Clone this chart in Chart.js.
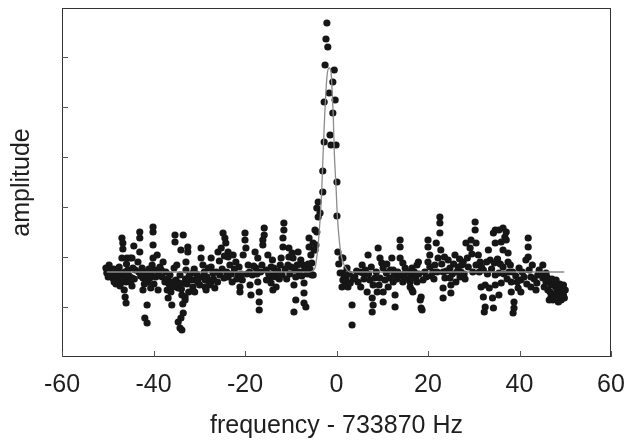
<!DOCTYPE html>
<html>
<head>
<meta charset="utf-8">
<script src="https://cdn.jsdelivr.net/npm/chart.js@4.4.1/dist/chart.umd.min.js"></script>
<style>
  html, body { margin: 0; padding: 0; background: #fff; }
  #wrap { width: 626px; height: 443px; }
</style>
</head>
<body>
<div id="wrap"><canvas id="spectrum" width="626" height="443"></canvas></div>
<script>
// tick positions (no labels on the y axis)
const xTicks = [-60, -40, -20, 0, 20, 40, 60];
const yTicks = [1, 2, 3, 4, 5, 6];

// measured points [frequency offset (Hz), amplitude (arb.)]
const leftWing = [
  [-50.4,1.78],[-50.2,1.68],[-49.7,1.84],[-49.5,1.62],[-49.1,1.74],[-48.9,1.58],[-48.4,1.70],[-48.2,1.46],
  [-47.8,1.52],[-47.5,1.80],[-47.3,1.42],[-47.1,1.64],[-46.9,2.38],[-46.7,2.28],[-46.7,2.16],[-46.9,1.98],
  [-46.4,1.34],[-46.2,1.20],[-46.0,1.08],[-45.8,1.98],[-46.0,1.50],[-45.6,1.74],[-45.1,1.98],[-44.7,1.98],
  [-44.5,1.78],[-44.7,1.58],[-44.7,1.42],[-44.0,1.74],[-44.3,2.22],[-43.0,2.50],[-43.0,2.38],[-43.0,2.10],
  [-42.5,1.78],[-42.3,1.58],[-42.3,1.34],[-41.9,0.78],[-41.4,0.68],[-41.4,1.04],[-43.4,1.90],[-40.8,1.68],
  [-40.8,1.58],[-40.3,1.84],[-40.1,1.98],[-40.1,2.24],[-40.1,2.50],[-40.1,2.60],[-41.2,1.50],[-39.7,1.74],
  [-39.2,2.04],[-38.6,1.80],[-38.1,1.60],[-39.0,1.34],[-37.5,1.50],[-37.9,1.90],[-37.3,1.70],[-37.0,1.34],
  [-36.8,1.18],[-36.0,1.04],[-36.0,1.40],[-35.3,2.44],[-35.3,2.30],[-36.4,1.64],[-35.5,1.78],[-35.1,1.54],
  [-34.9,1.84],[-34.6,1.38],[-34.6,0.70],[-34.2,0.58],[-34.0,0.78],[-33.8,1.24],[-34.2,1.64],[-33.3,1.48],
  [-33.1,1.14],[-32.9,1.74],[-33.8,0.54],[-33.5,0.88],[-33.5,2.44],[-34.0,2.14],[-32.5,2.20],[-32.5,2.10],
  [-32.9,1.90],[-33.1,1.20],[-31.4,1.68],[-30.9,1.54],[-31.4,1.40],[-30.3,1.50],[-29.6,2.18],[-29.6,1.98],
  [-29.2,1.84],[-29.6,1.60],[-28.7,1.54],[-28.7,1.40],[-28.5,1.34],[-27.4,1.98],[-27.4,1.80],[-27.0,1.68],
  [-27.4,1.50],[-26.6,1.38],[-25.9,2.10],[-25.2,2.18],[-24.8,2.48],[-24.4,2.38],[-24.2,2.28],[-23.7,2.10],
  [-23.7,2.00],[-23.3,1.84],[-23.7,1.60],[-22.6,2.04],[-22.0,1.90],[-21.5,1.64],[-21.1,1.40],[-21.1,1.30],
  [-20.0,2.48],[-20.0,2.34],[-19.8,2.18],[-20.4,2.04],[-19.3,1.84],[-18.9,1.44],[-18.7,1.24],[-17.8,2.10],
  [-17.6,1.78],[-17.2,1.50],[-17.2,1.98],[-16.9,1.30],[-16.9,1.10],[-16.9,0.94],[-15.8,2.58],[-15.8,2.44],
  [-16.1,2.34],[-16.1,2.24],[-15.0,2.04],[-14.3,1.80],[-13.7,1.78],[-14.3,1.60],[-14.3,1.48],[-13.9,1.34],
  [-13.2,1.60],[-13.2,1.40],[-12.1,1.98],[-11.5,2.68],[-11.5,2.54],[-11.7,2.38],[-11.7,2.20],[-10.4,2.18],
  [-10.4,2.00],[-10.6,1.84],[-9.5,1.98],[-8.9,1.60],[-9.3,1.44],[-8.9,1.14],[-9.3,0.90],[-8.4,2.10],
  [-7.8,1.94],[-7.3,1.84],[-7.1,1.48],[-7.1,1.28],[-7.1,1.08],[-6.7,1.00],[-6.0,2.38],[-6.0,2.20],
  [-5.6,2.04],[-5.1,1.64],[-4.9,2.14],[-4.5,2.24]
];

// second pass over the dense band near the baseline, left of the peak
const leftBand = [
  [-50.0,1.72],[-49.3,1.68],[-48.7,1.76],[-48.0,1.64],[-47.6,1.70],[-46.5,1.58],[-45.3,1.62],[-45.0,1.50],
  [-44.2,1.56],[-48.6,1.50],[-47.0,1.50],[-45.9,1.86],[-49.9,1.60],[-46.3,1.70],[-43.2,1.70],[-42.8,1.62],
  [-41.8,1.70],[-41.6,1.62],[-41.0,1.76],[-40.5,1.66],[-39.5,1.60],[-38.9,1.70],[-38.3,1.74],[-39.9,1.46],
  [-42.0,1.46],[-40.6,1.38],[-36.9,1.56],[-36.6,1.46],[-36.2,1.30],[-35.8,1.50],[-35.0,1.40],[-34.4,1.48],
  [-33.9,1.36],[-33.6,1.06],[-33.0,1.56],[-32.7,1.46],[-32.2,1.62],[-31.8,1.54],[-31.1,1.76],[-30.6,1.66],
  [-30.0,1.60],[-29.9,1.44],[-32.3,1.30],[-31.0,1.30],[-28.9,1.70],[-28.3,1.60],[-28.0,1.78],[-27.8,1.44],
  [-26.9,1.56],[-26.3,1.70],[-26.0,1.50],[-25.5,1.64],[-25.0,1.76],[-24.6,1.58],[-24.0,1.70],[-23.0,1.66],
  [-22.8,1.50],[-22.3,1.76],[-21.8,1.56],[-21.3,1.80],[-20.8,1.66],[-20.6,1.54],[-25.6,1.92],[-24.5,2.02],
  [-19.6,1.66],[-19.0,1.70],[-18.4,1.64],[-18.1,1.82],[-17.4,1.66],[-16.6,1.70],[-16.3,1.84],[-15.4,1.74],
  [-15.3,1.54],[-14.8,1.66],[-14.0,1.94],[-13.5,1.66],[-12.8,1.72],[-12.5,1.56],[-12.3,1.84],[-11.9,1.64],
  [-11.2,1.76],[-10.9,1.56],[-10.2,1.66],[-9.9,1.80],[-9.7,2.08],[-9.1,1.74],[-8.6,1.84],[-8.1,1.70],
  [-7.6,1.62],[-6.9,1.76],[-6.4,1.66],[-6.2,1.86],[-5.8,1.76]
];

const peakPoints = [
  [-4.0,2.80],[-4.3,2.98],[-4.0,3.10],[-3.6,2.88],[-4.3,2.50],[-4.7,2.54],[-5.1,2.28],[-4.7,2.14],
  [-5.4,1.88],[-5.4,1.64],[-3.0,3.30],[-3.0,3.72],[-2.7,4.30],[-2.7,5.10],[-2.5,5.84],[-2.3,6.36],
  [-1.9,6.20],[-2.1,6.68],[-1.6,5.28],[-1.4,4.44],[-1.2,4.24],[-0.5,5.74],[-0.8,5.50],[-0.3,5.14],
  [-0.8,4.88],[-0.1,4.24],[0.1,3.50],[0.1,2.82]
];

const rightWing = [
  [0.3,2.10],[1.2,1.98],[0.8,1.68],[1.4,1.54],[1.2,1.40],[1.4,1.98],[2.3,1.78],[1.4,1.68],
  [1.9,1.48],[2.5,1.40],[3.4,1.04],[3.4,0.64],[4.0,1.60],[5.1,1.70],[5.6,1.84],[5.8,1.68],
  [6.9,2.04],[7.3,1.54],[6.7,1.30],[8.0,1.44],[7.8,1.18],[8.0,1.04],[7.8,0.90],[9.1,2.18],
  [9.5,1.98],[9.9,1.88],[10.2,1.78],[9.5,1.58],[10.6,1.54],[10.2,1.30],[10.2,1.10],[11.3,1.40],
  [12.1,1.98],[12.4,1.74],[12.4,1.50],[12.8,1.24],[12.8,1.00],[13.9,2.34],[13.9,2.20],[13.9,1.98],
  [14.5,1.88],[15.0,1.78],[14.5,1.50],[16.1,1.50],[16.5,1.34],[16.5,1.78],[17.6,1.84],[17.6,1.50],
  [16.1,1.40],[16.7,1.30],[18.3,1.14],[18.7,0.94],[18.9,1.54],[18.5,1.20],[18.5,0.98],[20.0,2.34],
  [20.0,2.20],[20.4,2.04],[20.0,1.90],[20.4,1.80],[21.5,1.84],[21.1,1.70],[21.8,2.28],[22.6,2.80],
  [22.6,2.68],[22.6,2.48],[22.8,2.14],[22.2,1.98],[23.3,1.70],[23.7,1.58],[23.3,1.38],[23.3,1.18],
  [24.4,1.94],[24.8,1.78],[24.8,1.58],[25.0,1.44],[25.0,1.28],[25.9,2.04],[26.6,1.80],[27.0,1.60],
  [27.2,1.70],[26.1,1.50],[27.7,1.90],[28.3,2.28],[29.2,2.18],[29.4,2.34],[30.3,2.70],[30.3,2.54],
  [30.5,2.28],[31.0,2.04],[31.4,1.90],[30.5,1.84],[32.1,1.74],[32.5,1.44],[32.1,1.20],[32.5,1.00],
  [32.3,0.90],[33.2,2.14],[33.6,1.94],[34.3,2.48],[34.7,2.28],[34.7,1.64],[34.7,1.44],[34.1,1.18],
  [34.3,0.98],[34.7,2.54],[35.5,2.54],[36.0,2.30],[36.4,2.14],[36.4,2.58],[36.8,2.40],[37.1,2.50],
  [37.1,2.34],[37.5,2.08],[37.5,1.90],[36.4,1.80],[35.5,1.68],[36.0,1.48],[35.5,1.24],[37.7,1.70],
  [38.2,1.50],[38.2,1.30],[38.8,1.10],[38.8,0.98],[38.6,0.88],[39.9,1.78],[40.3,1.54],[39.7,1.38],
  [40.3,1.30],[41.9,2.38],[41.9,2.20],[41.9,2.00],[41.4,1.94],[42.1,1.74],[42.5,1.60],[42.5,1.40],
  [43.6,1.34],[44.0,1.64],[44.3,1.74],[45.1,1.84],[45.8,1.68],[46.5,1.50],[46.2,1.34],[46.9,1.20],
  [47.6,1.44],[48.0,1.28],[48.5,1.10],[49.1,1.38],[49.6,1.24],[49.1,1.14],[47.3,1.14],[46.5,1.14],
  [48.0,1.54],[50.0,1.34],[46.9,1.44],[48.5,1.34],[49.6,1.44],[45.8,1.50],[45.1,1.58]
];

// second pass over the dense band, right of the peak
const rightBand = [
  [0.5,1.86],[1.7,1.62],[2.1,1.56],[2.8,1.66],[3.0,1.48],[3.7,1.56],[4.4,1.72],[4.7,1.50],
  [5.3,1.40],[6.0,1.56],[6.3,1.74],[7.0,1.66],[7.6,1.80],[8.4,1.58],[8.7,1.70],[9.3,1.44],
  [8.9,1.30],[10.9,1.68],[11.0,1.86],[11.6,1.58],[11.8,1.74],[12.6,1.64],[13.2,1.56],[13.4,1.70],
  [14.0,1.62],[14.8,1.66],[15.3,1.56],[15.6,1.70],[16.3,1.62],[17.0,1.70],[17.3,1.58],[18.0,1.66],
  [19.3,1.70],[19.6,1.60],[17.9,1.90],[20.7,1.62],[21.3,1.56],[22.0,1.70],[23.0,1.86],[23.6,2.00],
  [24.0,1.72],[25.3,1.66],[25.6,1.86],[26.3,1.70],[26.9,1.96],[27.4,1.84],[27.9,1.66],[28.6,1.98],
  [28.8,1.80],[29.6,2.06],[29.8,1.70],[28.1,1.56],[31.2,1.70],[31.7,1.80],[32.8,1.90],[33.0,1.66],
  [33.9,1.76],[34.5,1.88],[35.2,1.96],[35.8,1.86],[36.6,1.66],[37.3,1.56],[38.0,1.84],[38.5,1.70],
  [39.2,1.62],[39.5,1.50],[33.4,1.38],[31.6,1.40],[40.6,1.70],[41.0,1.60],[41.6,1.46],[42.8,1.84],
  [43.2,1.56],[43.8,1.48],[44.6,1.66],[45.4,1.40],[46.0,1.60],[46.7,1.30],[47.1,1.56],[47.9,1.40],
  [48.3,1.20],[48.8,1.46],[49.3,1.30],[49.8,1.18],[47.8,1.16],[48.9,1.24]
];

// fitted curve
const fitCurve = [
  [-50.2,1.70],[-6.0,1.70],[-4.7,1.78],[-4.2,2.08],[-3.8,2.48],[-3.5,2.88],[-3.2,3.40],[-2.9,4.14],
  [-2.6,4.80],[-2.3,5.34],[-2.0,5.68],[-1.6,5.78],[-1.2,5.70],[-1.0,5.40],[-0.7,4.80],[-0.5,4.14],
  [-0.1,3.40],[0.2,2.80],[0.6,2.34],[1.1,2.00],[1.9,1.80],[2.9,1.70],[49.8,1.70]
];

function toXY(list) {
  return list.map(p => ({ x: p[0], y: p[1] }));
}

const fontFamily = '"Liberation Sans", Arial, sans-serif';

// frame round the plot and inward tick marks
const frameTicks = {
  id: 'frameTicks',
  afterDraw(chart) {
    const ctx = chart.ctx;
    const a = chart.chartArea;
    const xs = chart.scales.x, ys = chart.scales.y;
    ctx.save();
    ctx.strokeStyle = '#333';
    ctx.lineWidth = 1;
    ctx.strokeRect(Math.round(a.left) + 0.5, Math.round(a.top) + 0.5,
                   Math.round(a.right - a.left) - 1, Math.round(a.bottom - a.top) - 1);
    ctx.strokeStyle = '#555';
    ctx.beginPath();
    xTicks.forEach(v => {
      const px = Math.round(xs.getPixelForValue(v)) + 0.5;
      ctx.moveTo(px, a.bottom);
      ctx.lineTo(px, a.bottom - 6);
    });
    yTicks.forEach(v => {
      const py = Math.round(ys.getPixelForValue(v)) + 0.5;
      ctx.moveTo(a.left, py);
      ctx.lineTo(a.left + 6, py);
    });
    ctx.stroke();
    ctx.restore();
  }
};

new Chart(document.getElementById('spectrum'), {
  type: 'scatter',
  data: {
    datasets: [
      {
        label: 'fit',
        data: toXY(fitCurve),
        showLine: true,
        borderColor: '#8c8c8c',
        borderWidth: 1.3,
        pointRadius: 0,
        cubicInterpolationMode: 'monotone',
        order: 0
      },
      {
        label: 'data',
        data: toXY(leftWing.concat(leftBand, peakPoints, rightWing, rightBand)),
        backgroundColor: '#161616',
        borderWidth: 0,
        pointRadius: 3.6,
        order: 1
      }
    ]
  },
  options: {
    responsive: false,
    animation: false,
    devicePixelRatio: 1,
    layout: { padding: { top: 8, right: 15, left: 0, bottom: 0 } },
    plugins: { legend: { display: false }, tooltip: { enabled: false } },
    scales: {
      x: {
        type: 'linear',
        min: -60, max: 60,
        afterFit: s => { s.height = 86; s.paddingLeft = 0; s.paddingRight = 0; },
        afterBuildTicks: s => { s.ticks = xTicks.map(v => ({ value: v })); },
        grid: { display: false, drawTicks: false },
        border: { display: false },
        ticks: { padding: 13, color: '#1e1e1e', font: { family: fontFamily, size: 25 } },
        title: {
          display: true,
          text: 'frequency - 733870 Hz',
          color: '#1e1e1e',
          padding: { top: 0, bottom: 2 },
          font: { family: fontFamily, size: 25 }
        }
      },
      y: {
        type: 'linear',
        min: 0, max: 6.98,
        afterFit: s => { s.width = 62; },
        grid: { display: false, drawTicks: false },
        border: { display: false },
        ticks: { display: false },
        title: {
          display: true,
          text: 'amplitude',
          color: '#1e1e1e',
          padding: { top: 7, bottom: 0 },
          font: { family: fontFamily, size: 25 }
        }
      }
    }
  },
  plugins: [frameTicks]
});
</script>
</body>
</html>
